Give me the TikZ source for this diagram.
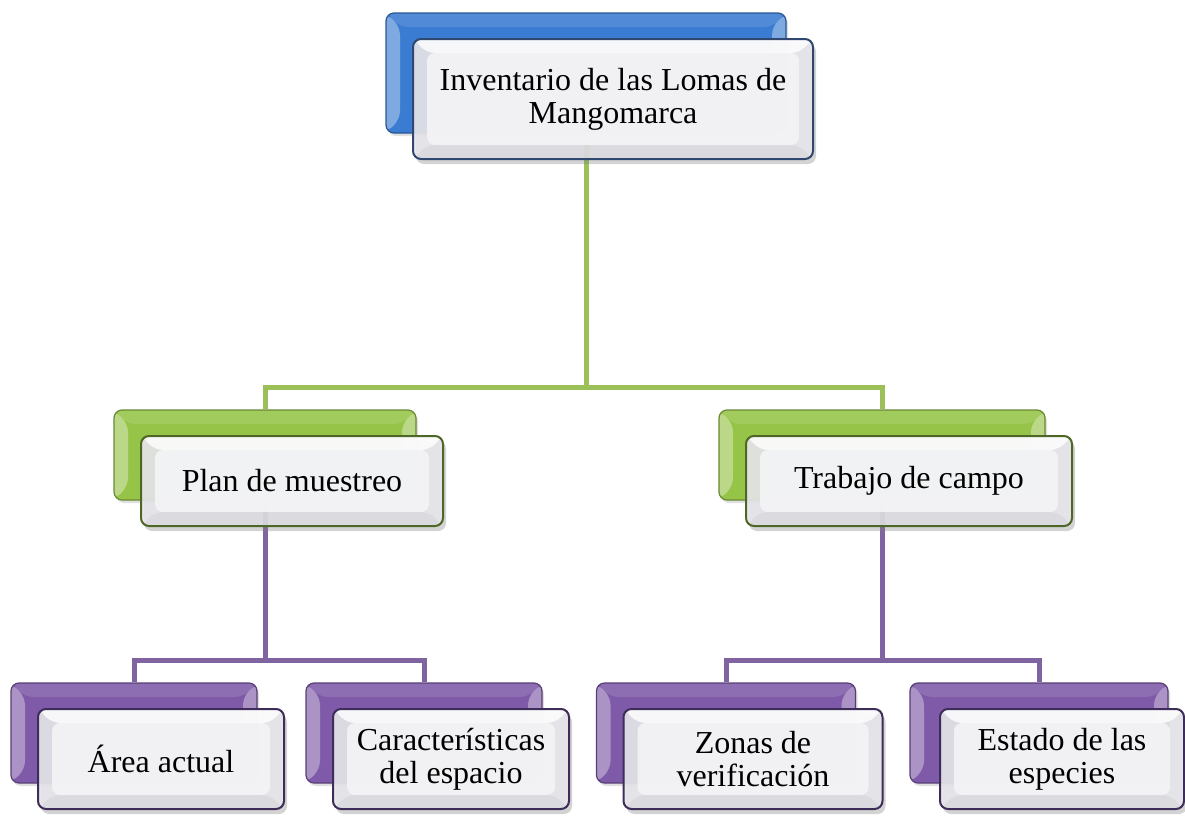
\documentclass[tikz,border=0pt]{standalone}
\usepackage{fontspec}
\setmainfont{Liberation Serif}
\usetikzlibrary{positioning,calc,shadows,backgrounds}
\definecolor{topblue}{RGB}{58,124,210}
\definecolor{topblueedge}{RGB}{48,72,112}
\definecolor{midgreen}{RGB}{150,196,72}
\definecolor{midgreenedge}{RGB}{78,102,38}
\definecolor{lowpurple}{RGB}{126,90,168}
\definecolor{lowpurpleedge}{RGB}{62,45,88}
\definecolor{greenwire}{RGB}{155,192,88}
\definecolor{purplewire}{RGB}{128,100,162}
\definecolor{panelgray}{RGB}{230,230,234}
\definecolor{panelwhite}{RGB}{244,244,246}
\tikzset{
	boxsize/.style 2 args = {minimum width=#1*0.5pt, minimum height=#2*0.5pt},
	backbox/.style = {draw=#1!70!black, fill=#1, line width=0.6pt, rounded corners=4pt, inner sep=0pt,
		drop shadow={shadow xshift=1pt, shadow yshift=-1.5pt, opacity=0.25},
		path picture={
			\coordinate (pb-sw) at (path picture bounding box.south west);
			\coordinate (pb-ne) at (path picture bounding box.north east);
			\fill[white, opacity=0.35] (pb-sw) -- (pb-sw |- pb-ne) -- ++(7pt,-7pt) -- ($(pb-sw)+(7pt,7pt)$) -- cycle;
			\fill[white, opacity=0.35] (pb-ne) -- (pb-ne |- pb-sw) -- ++(-7pt,7pt) -- ($(pb-ne)+(-7pt,-7pt)$) -- cycle;
			\fill[white, opacity=0.12] (pb-sw |- pb-ne) -- (pb-ne) -- ++(-7pt,-7pt) -- ($(pb-sw |- pb-ne)+(7pt,-7pt)$) -- cycle;
		}},
	frontbox/.style = {draw=#1, fill=panelgray, fill opacity=0.9, text opacity=1, line width=1pt,
		rounded corners=4pt, inner sep=0pt, align=center, font=\fontsize{16}{16.5}\selectfont,
		drop shadow={shadow xshift=1.5pt, shadow yshift=-2.5pt, opacity=0.35},
		path picture={
			\coordinate (pb-sw) at (path picture bounding box.south west);
			\coordinate (pb-ne) at (path picture bounding box.north east);
			\fill[panelwhite] ($(pb-sw)+(7pt,7pt)$) rectangle ($(pb-ne)+(-7pt,-7pt)$);
			\fill[white, opacity=0.8] (pb-sw |- pb-ne) -- (pb-ne) -- ++(-7pt,-7pt) -- ($(pb-sw |- pb-ne)+(7pt,-7pt)$) -- cycle;
			\fill[black, opacity=0.035] (pb-sw) -- (pb-ne |- pb-sw) -- ++(-7pt,7pt) -- ($(pb-sw)+(7pt,7pt)$) -- cycle;
		}},
	greenlink/.style = {draw=greenwire, line width=2.5pt},
	purplelink/.style = {draw=purplewire, line width=2.5pt},
	hub/.style = {coordinate}
}

\begin{document}
\begin{tikzpicture}[x=0.5pt, y=-0.5pt]
	\useasboundingbox (0,0) rectangle (1185,819);
	% ========================== Nodes ============================
	% top level
	\node [backbox=topblue, boxsize={400}{120}] (invB) at (586,73) {};
	\node [frontbox=topblueedge, boxsize={400}{120}, shift={(27,26)}] (invF) at (invB) {Inventario de las Lomas de\\Mangomarca};

	% second level
	\node [backbox=midgreen, boxsize={302}{90}] (planB) at (265,455) {};
	\node [frontbox=midgreenedge, boxsize={302}{90}, shift={(27,26)}] (planF) at (planB) {Plan de muestreo};
	\node [backbox=midgreen, boxsize={326}{90}] (campoB) at (882,455) {};
	\node [frontbox=midgreenedge, boxsize={326}{90}, shift={(27,26)}] (campoF) at (campoB) {Trabajo de campo};

	% third level
	\node [backbox=lowpurple, boxsize={246}{100}] (areaB) at (134,733) {};
	\node [frontbox=lowpurpleedge, boxsize={246}{100}, shift={(27,26)}] (areaF) at (areaB) {Área actual};
	\node [backbox=lowpurple, boxsize={236}{100}] (caracB) at (424,733) {};
	\node [frontbox=lowpurpleedge, boxsize={236}{100}, shift={(27,26)}] (caracF) at (caracB) {Características\\del espacio};
	\node [backbox=lowpurple, boxsize={259}{100}] (zonasB) at (726,733) {};
	\node [frontbox=lowpurpleedge, boxsize={259}{100}, shift={(27,26)}] (zonasF) at (zonasB) {Zonas de\\verificación};
	\node [backbox=lowpurple, boxsize={258}{100}] (estadoB) at (1039,733) {};
	\node [frontbox=lowpurpleedge, boxsize={244}{100}, shift={(23,26)}] (estadoF) at (estadoB) {Estado de las\\especies};

	% branch points
	\coordinate [hub] (hubTop) at (586,387);
	\coordinate [hub] (hubPlan) at (265,660);
	\coordinate [hub] (hubCampo) at (882,660);

	% ========================== Lines ============================
	\begin{scope}[on background layer]
	\draw [greenlink] (invB) -- (hubTop) -| (planB);
	\draw [greenlink] (hubTop) -| (campoB);

	\draw [purplelink] (planB) -- (hubPlan) -| (areaB);
	\draw [purplelink] (hubPlan) -| (caracB);
	\draw [purplelink] (campoB) -- (hubCampo) -| (zonasB);
	\draw [purplelink] (hubCampo) -| (estadoB);
	\end{scope}
\end{tikzpicture}
\end{document}
